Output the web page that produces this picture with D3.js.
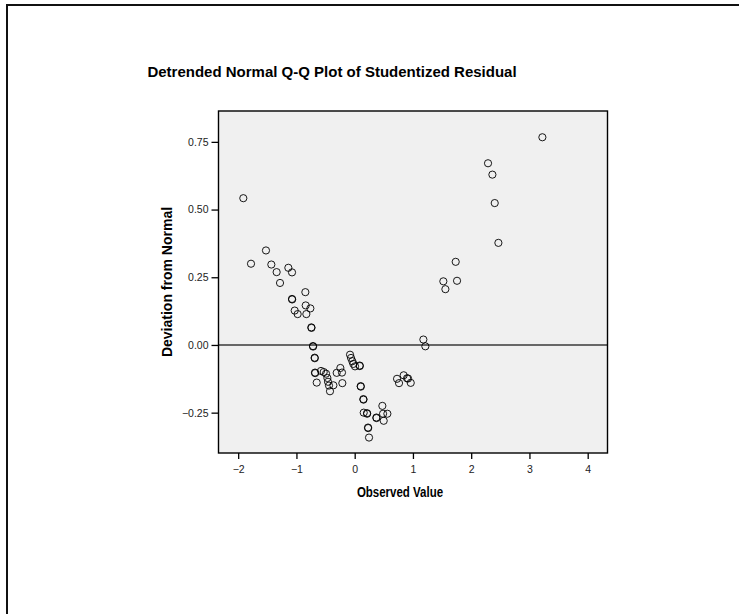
<!DOCTYPE html>
<html><head><meta charset="utf-8">
<script src="https://cdn.jsdelivr.net/npm/d3@7"></script>
<style>html,body{margin:0;padding:0;background:#fff;}svg{display:block;}</style>
</head><body>
<svg id="chart" width="739" height="614"></svg>
<script>
const titleText = "Detrended Normal Q-Q Plot of Studentized Residual";
const xLabel = "Observed Value";
const yLabel = "Deviation from Normal";
const xTicks = [-2, -1, 0, 1, 2, 3, 4];
const yTicks = [-0.25, 0.00, 0.25, 0.50, 0.75];
const observed = [
  -1.912,-1.78,-1.523,-1.431,-1.340,-1.282,-1.139,-1.076,-1.076,-1.074,-1.030,-0.979,-0.847,-0.841,-0.830,-0.761,
  -0.744,-0.742,-0.716,-0.714,-0.687,-0.685,-0.681,-0.679,-0.652,-0.578,-0.532,-0.492,-0.469,-0.458,-0.441,-0.424,
  -0.366,-0.309,-0.246,-0.218,-0.212,-0.080,-0.063,-0.040,-0.023,0.006,0.086,0.088,0.103,0.105,0.149,0.151,
  0.155,0.212,0.214,0.229,0.231,0.246,0.372,0.374,0.475,0.487,0.498,0.561,0.727,0.761,0.841,0.899,0.916,0.962,
  1.179,1.213,1.522,1.557,1.734,1.757,2.289,2.364,2.404,2.467,3.222
];
const deviation = [
  0.542,0.300,0.349,0.297,0.269,0.229,0.285,0.268,0.170,0.168,0.127,0.114,0.195,0.146,0.114,0.135,
  0.065,0.063,-0.004,-0.006,-0.047,-0.049,-0.102,-0.104,-0.139,-0.096,-0.100,-0.106,-0.122,-0.136,-0.150,-0.171,
  -0.149,-0.103,-0.085,-0.102,-0.141,-0.036,-0.048,-0.060,-0.070,-0.079,-0.076,-0.078,-0.152,-0.154,-0.200,-0.202,
  -0.250,-0.252,-0.254,-0.305,-0.307,-0.342,-0.268,-0.270,-0.225,-0.254,-0.280,-0.254,-0.125,-0.141,-0.112,-0.123,-0.124,-0.140,
  0.020,-0.005,0.235,0.206,0.307,0.237,0.671,0.629,0.524,0.377,0.767
];
const points = observed.map((v,i)=>({x:v,y:deviation[i]}));

const svg = d3.select("#chart");
const font = "'Liberation Sans', Arial, sans-serif";
// page border (top and left)
svg.append("line").attr("x1",7).attr("y1",5).attr("x2",739).attr("y2",5).attr("stroke","#111").attr("stroke-width",2);
svg.append("line").attr("x1",7).attr("y1",4).attr("x2",7).attr("y2",614).attr("stroke","#111").attr("stroke-width",2);

const L=218.5, R=607.5, T=111, B=453;
const x = d3.scaleLinear().domain([-2.338, 4.34]).range([L, R]);
const y = d3.scaleLinear().domain([-0.399, 0.864]).range([B, T]);

svg.append("rect").attr("x",L).attr("y",T).attr("width",R-L).attr("height",B-T).attr("fill","#f0f0f0");

svg.append("line").attr("x1",L).attr("x2",R).attr("y1",y(0)).attr("y2",y(0)).attr("stroke","#3a3a3a").attr("stroke-width",1.4);

svg.append("g").selectAll("circle").data(points).join("circle")
  .attr("cx",d=>x(d.x)).attr("cy",d=>y(d.y)).attr("r",3.6)
  .attr("fill","none").attr("stroke","#000").attr("stroke-width",0.9);

svg.append("rect").attr("x",L).attr("y",T).attr("width",R-L).attr("height",B-T).attr("fill","none").attr("stroke","#000").attr("stroke-width",1.4);

const xAxis = svg.append("g").attr("transform",`translate(0,${B})`)
  .call(d3.axisBottom(x).tickValues(xTicks).tickFormat(d3.format("d")).tickSize(6).tickPadding(7));
const yAxis = svg.append("g").attr("transform",`translate(${L},0)`)
  .call(d3.axisLeft(y).tickValues(yTicks).tickFormat(d3.format(".2f")).tickSize(7).tickPadding(3));
[xAxis,yAxis].forEach(g=>{
  g.select(".domain").remove();
  g.selectAll("line").attr("stroke","#000").attr("stroke-width",1.3);
  g.selectAll("text").attr("font-family",font).attr("font-size",10.5).attr("fill","#222");
});

svg.append("text").attr("x",332).attr("y",77).attr("text-anchor","middle")
  .attr("font-family",font).attr("font-weight","bold").attr("font-size",15).text(titleText);
svg.append("text").attr("transform","translate(400,496.5) scale(1,1.2)").attr("text-anchor","middle")
  .attr("font-family",font).attr("font-weight","bold").attr("font-size",11.5).text(xLabel);
svg.append("text").attr("transform",`translate(172,${(T+B)/2}) rotate(-90)`).attr("text-anchor","middle")
  .attr("font-family",font).attr("font-weight","bold").attr("font-size",14).text(yLabel);
</script>
</body></html>
